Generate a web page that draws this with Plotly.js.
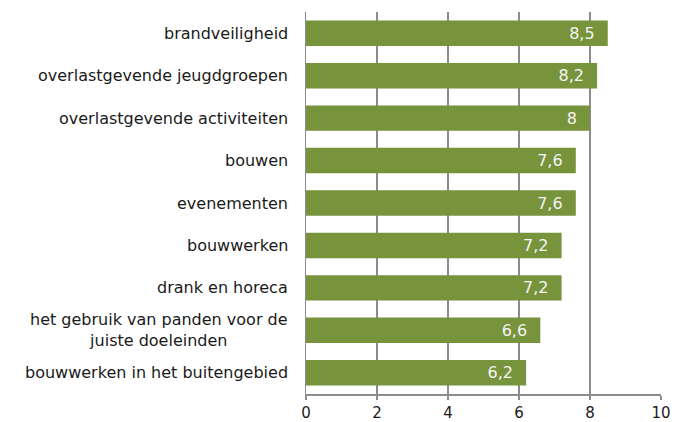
<!DOCTYPE html>
<html>
<head>
<meta charset="utf-8">
<script src="https://cdn.plot.ly/plotly-3.0.1.min.js"></script>
<style>html,body{margin:0;padding:0;background:#fff;}#chart{width:675px;height:422px;}</style>
</head>
<body>
<div id="chart"></div>
<script>
const categories = [
  "brandveiligheid",
  "overlastgevende jeugdgroepen",
  "overlastgevende activiteiten",
  "bouwen",
  "evenementen",
  "bouwwerken",
  "drank en horeca",
  "het gebruik van panden voor de<br>juiste doeleinden",
  "bouwwerken in het buitengebied"
];
const values = [8.5, 8.2, 8, 7.6, 7.6, 7.2, 7.2, 6.6, 6.2];
const xTicks = [0, 2, 4, 6, 8, 10];

const FONT = "DejaVu Sans, Verdana, sans-serif";
const labelFont = {family: FONT, size: 16, color: "#1a1a1a"};

const trace = {
  type: "bar",
  orientation: "h",
  y: categories,
  x: values,
  marker: {color: "#77933C"},
  texttemplate: "%{x}\u00a0\u00a0",
  textposition: "inside",
  insidetextanchor: "end",
  insidetextfont: {family: FONT, size: 16, color: "#f4f4f4"},
  hoverinfo: "none",
  cliponaxis: false
};

const annotations = categories.map(c => ({
  xref: "paper", yref: "y", x: 0, y: c,
  xshift: -16, xanchor: "right", yanchor: "middle",
  align: "center", text: c, showarrow: false,
  font: labelFont
}));

const layout = {
  width: 675, height: 422,
  margin: {l: 306, r: 14, t: 12, b: 28},
  paper_bgcolor: "#fff", plot_bgcolor: "#fff",
  separators: ",.",
  showlegend: false,
  bargap: 0.4,
  xaxis: {
    range: [0, 10], tickvals: xTicks, ticktext: xTicks.map(String),
    showgrid: true, gridcolor: "#8c8c8c", gridwidth: 1.5,
    zeroline: false, showline: true, linecolor: "#8c8c8c", linewidth: 1.5,
    ticks: "outside", ticklen: 4, tickcolor: "#8c8c8c", tickwidth: 1.5,
    tickfont: {family: FONT, size: 15, color: "#1a1a1a"},
    fixedrange: true
  },
  yaxis: {
    autorange: "reversed", showticklabels: false, showgrid: false,
    zeroline: false, showline: true, linecolor: "#8c8c8c", linewidth: 1.5,
    ticks: "", fixedrange: true
  },
  annotations: annotations
};

Plotly.newPlot("chart", [trace], layout, {displayModeBar: false, staticPlot: true});
</script>
</body>
</html>
